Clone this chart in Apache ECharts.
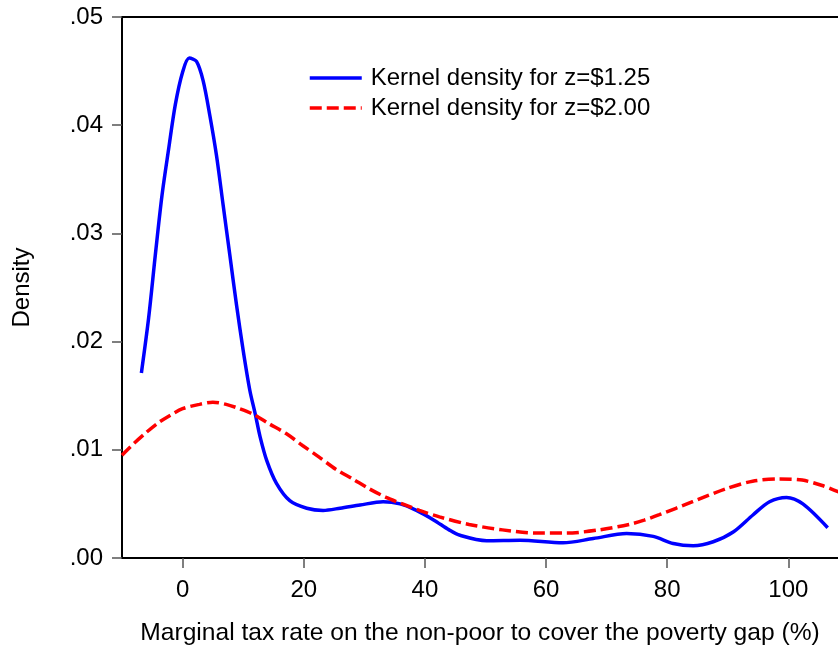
<!DOCTYPE html>
<html>
<head>
<meta charset="utf-8">
<script src="https://cdn.jsdelivr.net/npm/echarts@6/dist/echarts.min.js"></script>
<style>
html, body { margin: 0; padding: 0; background: #fff; }
#container { width: 838px; height: 651px; }
</style>
</head>
<body>
<div id="container"></div>
<script>
var dom = document.getElementById("container");
var myChart = echarts.init(dom);

var seriesNames = ['Kernel density for z=$1.25', 'Kernel density for z=$2.00'];
var xTicks = [0, 20, 40, 60, 80, 100];
var yTicks = [0, 0.01, 0.02, 0.03, 0.04, 0.05];

// z = $1.25
var blueX = [-6.8, -5.6, -4.5, -3.4, -2.3, -1.2, 0.0, 1.1, 2.3, 3.4, 4.5, 5.6, 6.7, 7.8, 8.9, 10.0,
    11.1, 12.0, 12.8, 13.9, 15.5, 17.7, 20.5, 23.2, 26.0, 29.3, 33.1, 35.9, 38.6, 41.5, 44.0,
    45.8, 50.2, 55.7, 62.8, 67.8, 73.3, 77.7, 81.0, 84.3, 87.6, 90.9, 94.2, 96.9, 99.7, 102.4, 106.5];
var blueY = [0.0171, 0.0222, 0.0280, 0.0335, 0.0378, 0.0419, 0.0449, 0.0462, 0.0459, 0.0441, 0.0409,
    0.0372, 0.0326, 0.0280, 0.0234, 0.0192, 0.0155, 0.0133, 0.0112, 0.0090, 0.0069, 0.0053, 0.0046,
    0.0044, 0.0046, 0.0049, 0.0052, 0.0050, 0.0044, 0.0035, 0.0026, 0.0021, 0.0016, 0.00165, 0.0014,
    0.0018, 0.00226, 0.0020, 0.00134, 0.00113, 0.0015, 0.0024, 0.0040, 0.0052, 0.0056, 0.0050, 0.0028];

// z = $2.00
var redX = [-10, -8, -6, -4, -2, 0, 2.8, 5.0, 7.2, 9.4, 11.6, 14.3, 17.1, 19.8, 22.6, 25.3, 28.1,
    30.8, 33.6, 36.3, 39.1, 42.4, 47.3, 52.8, 58.3, 63.3, 68.8, 73.7, 76.2, 78.7, 84.2, 89.7, 94.1,
    98.5, 102.3, 105.6, 108.3];
var redY = [0.0095, 0.0106, 0.0116, 0.0125, 0.0132, 0.0138, 0.0142, 0.0144, 0.0142, 0.0138, 0.0133,
    0.0124, 0.0115, 0.0104, 0.0093, 0.0082, 0.0073, 0.0064, 0.0056, 0.0050, 0.0044, 0.0038, 0.0031,
    0.0026, 0.0023, 0.0023, 0.0026, 0.0031, 0.0035, 0.0040, 0.0052, 0.0064, 0.0071, 0.0073, 0.0072,
    0.0067, 0.0061];

function pairs(xs, ys) {
    return xs.map(function (x, i) { return [x, ys[i]]; });
}

var font = 'Liberation Sans, Arial, sans-serif';

option = {
    animation: false,
    backgroundColor: '#fff',
    textStyle: { fontFamily: font, color: '#000' },
    grid: { left: 122, right: 0, top: 17, bottom: 88 },
    legend: {
        left: 308,
        top: 66,
        padding: 0,
        orient: 'vertical',
        itemWidth: 52,
        itemHeight: 14,
        itemGap: 6,
        data: seriesNames,
        itemStyle: { opacity: 0 },
        lineStyle: { width: 3.5 },
        textStyle: { fontSize: 24, lineHeight: 24, color: '#000', fontFamily: font, padding: [0, 0, 0, 4] }
    },
    xAxis: [{
        type: 'value',
        min: -10,
        max: 108.2,
        name: 'Marginal tax rate on the non-poor to cover the poverty gap (%)',
        nameLocation: 'middle',
        nameGap: 63,
        nameTextStyle: { fontSize: 24.6, color: '#000', fontFamily: font },
        axisLine: { show: true, onZero: false, lineStyle: { color: '#000', width: 2 } },
        axisTick: { show: true, length: 10, customValues: xTicks, lineStyle: { color: '#555', width: 1.5 } },
        axisLabel: { customValues: xTicks, fontSize: 24, color: '#000', margin: 20 },
        splitLine: { show: false }
    }, {
        type: 'value',
        position: 'top',
        min: -10,
        max: 108.2,
        axisLine: { show: true, onZero: false, lineStyle: { color: '#000', width: 2 } },
        axisTick: { show: false },
        axisLabel: { show: false },
        splitLine: { show: false }
    }],
    yAxis: {
        type: 'value',
        min: 0,
        max: 0.05,
        name: 'Density',
        nameLocation: 'middle',
        nameGap: 88,
        nameTextStyle: { fontSize: 24, color: '#000', fontFamily: font },
        axisLine: { show: true, onZero: false, lineStyle: { color: '#000', width: 2 } },
        axisTick: { show: true, length: 10, customValues: yTicks, lineStyle: { color: '#555', width: 1.5 } },
        axisLabel: {
            customValues: yTicks,
            fontSize: 24,
            color: '#000',
            margin: 19,
            formatter: function (v) { return v.toFixed(2).replace(/^0/, ''); }
        },
        splitLine: { show: false }
    },
    series: [
        {
            name: seriesNames[0],
            type: 'line',
            symbol: 'none',
            smooth: 0.3,
            lineStyle: { color: '#0000ff', width: 3.5 },
            itemStyle: { color: '#0000ff' },
            data: pairs(blueX, blueY)
        },
        {
            name: seriesNames[1],
            type: 'line',
            symbol: 'none',
            smooth: 0.3,
            lineStyle: { color: '#ff0000', width: 3.5, type: [12, 5] },
            itemStyle: { color: '#ff0000' },
            data: pairs(redX, redY)
        }
    ]
};

if (option && typeof option === "object") {
    myChart.setOption(option, true);
}
</script>
</body>
</html>
